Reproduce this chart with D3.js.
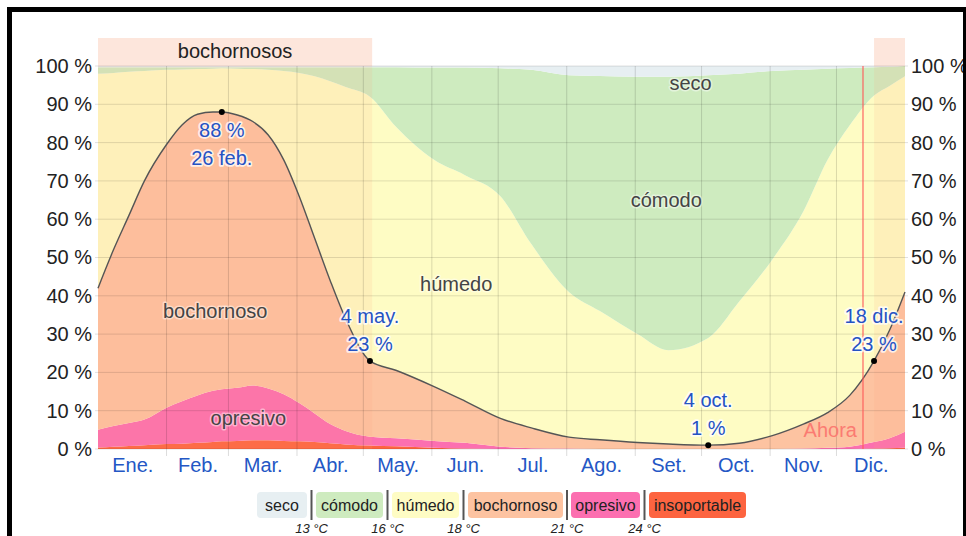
<!DOCTYPE html>
<html lang="es">
<head>
<meta charset="UTF-8">
<title>Niveles de comodidad de la humedad</title>
<script src="https://d3js.org/d3.v7.min.js"></script>
<style>
  body { margin: 0; background: #fff; }
  svg text { font-family: Arial, "Liberation Sans", sans-serif; }
</style>
</head>
<body>
<svg width="966" height="536"></svg>
<script>
// day of year (0 = 1 ene.) for each sample
const days = [0,7,14,21,31,38,45,52,56,63,70,77,84,91,98,105,112,123,135,152,166,182,196,213,227,244,258,276,290,305,319,330,340,351,358,365];

// percent of time in each humidity comfort level
const insoportable = [0.4,0.6,0.8,1.0,1.3,1.4,1.6,1.8,2.0,2.1,2.3,2.3,2.1,2.0,1.8,1.5,1.2,0.9,0.7,0.3,0.1,0,0,0,0,0,0,0,0,0,0,0,0,0.1,0.2,0.3];
const opresivo = [4.6,5.4,6,6.7,9.5,11.1,12.4,13.4,13.6,13.9,14.3,13.5,12.2,10,7.5,5,3.5,2.3,2.1,1.8,1.5,0.6,0.2,0.1,0,0,0,0,0,0,0.1,0.3,0.6,1.7,2.6,4.2];
const bochornoso = [37,46,54.2,62.3,68.7,72.1,73.4,72.8,72.4,71.2,68.9,66.2,61.2,54,45.7,37.5,29.3,19.8,17.7,14.2,10.9,7.4,5.3,3.0,2.4,1.7,1.3,1,1.5,3.5,6.4,9.2,13.4,21.2,28.2,36.5];
const humedo = [56,46.2,37.5,28.7,19.5,14.5,11.8,11.3,11.4,12.1,13.7,17,23.2,32.2,42.3,52,60.5,69,63.5,59.2,59,58,48,37.9,33.6,28.3,24.5,28,37,46,55.5,66,70.5,69.3,63.8,56.3];
const comodo = [1.7,1.5,1.2,1.0,0.7,0.6,0.5,0.4,0.3,0.4,0.5,0.7,1.0,1.5,2.4,3.7,5.2,7.7,15.7,24.1,28.1,33.4,45.5,56.6,61.4,67.2,71.4,68.6,59.5,49.2,37,23.8,15,7.4,5,2.7];
const seco = [0.3,0.3,0.3,0.3,0.3,0.3,0.3,0.3,0.3,0.3,0.3,0.3,0.3,0.3,0.3,0.3,0.3,0.3,0.3,0.4,0.4,0.6,1.0,2.4,2.6,2.8,2.8,2.4,2,1.3,1,0.7,0.5,0.3,0.2,0];

const levels = ["insoportable","opresivo","bochornoso","húmedo","cómodo","seco"];
const levelSeries = [insoportable, opresivo, bochornoso, humedo, comodo, seco];
const levelColors = ["#fd6440","#fc6fb0","#fdc3a1","#fefcc4","#ceebbf","#e7eff2"];

const monthStarts = [0,31,59,90,120,151,181,212,243,273,304,334,365];
const months = ["Ene.","Feb.","Mar.","Abr.","May.","Jun.","Jul.","Ago.","Set.","Oct.","Nov.","Dic."];
const yTicks = [0,10,20,30,40,50,60,70,80,90,100];

// periods labelled "bochornosos" (day ranges)
const muggyPeriods = [[0,124],[351,365]];
const nowDay = 346;

const annotations = [
  {day: 56, value: 88, lines: ["88 %","26 feb."], below: true},
  {day: 123, value: 23, lines: ["4 may.","23 %"], below: false},
  {day: 276, value: 1, lines: ["4 oct.","1 %"], below: false},
  {day: 351, value: 23, lines: ["18 dic.","23 %"], below: false}
];

const legendItems = ["seco","cómodo","húmedo","bochornoso","opresivo","insoportable"];
const legendColors = ["#e7eff2","#ceebbf","#fefcc4","#fdc3a1","#fc6fb0","#fd6440"];
const legendTemps = ["13 °C","16 °C","18 °C","21 °C","24 °C"];

const svg = d3.select("svg");
const x = d3.scaleLinear().domain([0,365]).range([98,905]);
const y = d3.scaleLinear().domain([0,100]).range([449,66]);

// table for the stack
const table = days.map((d,i) => {
  const row = {day: d};
  levels.forEach((k,j) => row[k] = levelSeries[j][i]);
  return row;
});
const stacked = d3.stack().keys(levels)(table);

// top band
svg.selectAll("rect.band").data(muggyPeriods).enter().append("rect")
  .attr("x", d => x(d[0])).attr("width", d => x(d[1]) - x(d[0]))
  .attr("y", 38).attr("height", 28).attr("fill", "#fde6dc");
svg.append("text").attr("x", (x(muggyPeriods[0][0]) + x(muggyPeriods[0][1])) / 2).attr("y", 58)
  .attr("text-anchor", "middle").attr("font-size", 20).attr("fill", "#222").text("bochornosos");

const area = d3.area().curve(d3.curveMonotoneX)
  .x(d => x(d.data.day)).y0(d => y(d[0])).y1(d => y(d[1]));

svg.append("g").selectAll("path").data(stacked).enter().append("path")
  .attr("d", area).attr("fill", (d,i) => levelColors[i]);

// tint over plot for muggy periods
svg.selectAll("rect.tint").data(muggyPeriods).enter().append("rect")
  .attr("x", d => x(d[0])).attr("width", d => x(d[1]) - x(d[0]))
  .attr("y", y(100)).attr("height", y(0) - y(100))
  .attr("fill", "rgb(252,160,120)").attr("opacity", 0.13);

// grid
const grid = svg.append("g");
grid.selectAll("line.h").data(yTicks).enter().append("line")
  .attr("x1", 95).attr("x2", 908).attr("y1", d => y(d)).attr("y2", d => y(d))
  .attr("stroke", "rgba(0,0,0,0.12)").attr("stroke-width", 1);
grid.selectAll("line.v").data(monthStarts.slice(1, 12)).enter().append("line")
  .attr("x1", d => x(d)).attr("x2", d => x(d)).attr("y1", y(100)).attr("y2", y(0) + 7)
  .attr("stroke", "rgba(0,0,0,0.14)").attr("stroke-width", 1);

// muggy line (top of bochornoso)
const line = d3.line().curve(d3.curveMonotoneX).x(d => x(d.data.day)).y(d => y(d[1]));
svg.append("path").datum(stacked[2]).attr("d", line)
  .attr("fill", "none").attr("stroke", "#555").attr("stroke-width", 1.4);

// now line
svg.append("line").attr("x1", x(nowDay)).attr("x2", x(nowDay)).attr("y1", y(100)).attr("y2", y(0))
  .attr("stroke", "#ff5a5a").attr("stroke-width", 1.3).attr("opacity", 0.85);
svg.append("text").attr("x", x(nowDay) - 6).attr("y", 437).attr("text-anchor", "end")
  .attr("font-size", 20).attr("fill", "#fb7b72").text("Ahora");

// level labels
const levelLabels = [
  {t: "bochornoso", day: 53, v: 36},
  {t: "opresivo", day: 68, v: 8},
  {t: "húmedo", day: 162, v: 43},
  {t: "cómodo", day: 257, v: 65},
  {t: "seco", day: 268, v: 95.5}
];
svg.append("g").selectAll("text").data(levelLabels).enter().append("text")
  .attr("x", d => x(d.day)).attr("y", d => y(d.v) + 7)
  .attr("text-anchor", "middle").attr("font-size", 20).attr("fill", "#444")
  .attr("stroke", "rgba(255,255,255,0.45)").attr("stroke-width", 3)
  .attr("paint-order", "stroke").attr("stroke-linejoin", "round")
  .text(d => d.t);

// annotations
const ann = svg.append("g").selectAll("g").data(annotations).enter().append("g");
ann.append("circle").attr("cx", d => x(d.day)).attr("cy", d => y(d.value)).attr("r", 3).attr("fill", "#000");
ann.each(function(d) {
  const g = d3.select(this);
  const base = d.below ? y(d.value) + 25 : y(d.value) - 38;
  d.lines.forEach((s, i) => {
    g.append("text").attr("x", x(d.day)).attr("y", base + i * 28)
      .attr("text-anchor", "middle").attr("font-size", 20).attr("fill", "#2553c4")
      .attr("stroke", "rgba(255,255,255,0.75)").attr("stroke-width", 3.5)
      .attr("paint-order", "stroke").attr("stroke-linejoin", "round")
      .text(s);
  });
});

// axes
const fmt = d => d + " %";
const left = svg.append("g").attr("transform", "translate(98,0)")
  .call(d3.axisLeft(y).tickValues(yTicks).tickFormat(fmt).tickSize(0).tickPadding(6));
const right = svg.append("g").attr("transform", "translate(905,0)")
  .call(d3.axisRight(y).tickValues(yTicks).tickFormat(fmt).tickSize(0).tickPadding(6));
[left, right].forEach(a => {
  a.select(".domain").remove();
  a.selectAll("text").attr("font-size", 20).attr("fill", "#222").attr("font-family", "Arial, 'Liberation Sans', sans-serif");
});

const monthMid = months.map((m, i) => (monthStarts[i] + monthStarts[i + 1]) / 2);
const bottom = svg.append("g").attr("transform", "translate(0,449)")
  .call(d3.axisBottom(x).tickValues(monthMid).tickFormat((d, i) => months[i]).tickSize(0).tickPadding(9));
bottom.select(".domain").remove();
bottom.selectAll("text").attr("font-size", 20).attr("fill", "#2457c5").attr("font-family", "Arial, 'Liberation Sans', sans-serif");

// legend
const legendX = [257, 316, 392, 468, 571, 649];
const legendW = [50, 67, 67, 95, 69, 97];
const lg = svg.append("g");
legendItems.forEach((s, i) => {
  lg.append("rect").attr("x", legendX[i]).attr("y", 492).attr("width", legendW[i]).attr("height", 26)
    .attr("rx", 4).attr("fill", legendColors[i]);
  lg.append("text").attr("x", legendX[i] + legendW[i] / 2).attr("y", 511)
    .attr("text-anchor", "middle").attr("font-size", 16).attr("fill", "#222").text(s);
});
legendTemps.forEach((s, i) => {
  const sx = (legendX[i] + legendW[i] + legendX[i + 1]) / 2;
  lg.append("line").attr("x1", sx).attr("x2", sx).attr("y1", 490).attr("y2", 520)
    .attr("stroke", "#555").attr("stroke-width", 2);
  lg.append("text").attr("x", sx).attr("y", 533).attr("text-anchor", "middle")
    .attr("font-size", 13).attr("font-style", "italic").attr("fill", "#222").text(s);
});

// frame
svg.append("rect").attr("x", 9.5).attr("y", 9.5).attr("width", 956).attr("height", 600)
  .attr("fill", "none").attr("stroke", "#000").attr("stroke-width", 5);
</script>
</body>
</html>
